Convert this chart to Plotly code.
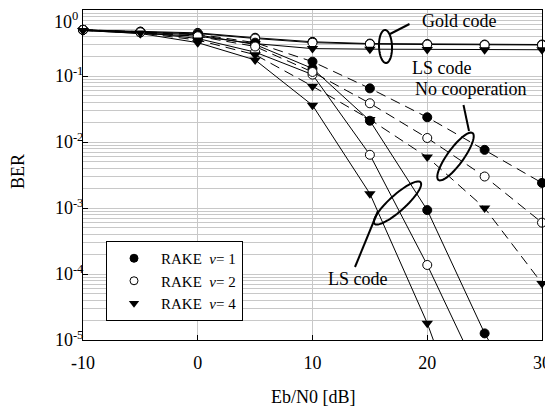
import numpy as np
import plotly.graph_objects as go

# ---------------- data ----------------
ebn0 = [-10, -5, 0, 5, 10, 15, 20, 25, 30]

gold_v1 = [0.50, 0.47, 0.45, 0.38, 0.33, 0.31, 0.305, 0.30, 0.30]
gold_v2 = [0.50, 0.46, 0.44, 0.37, 0.32, 0.305, 0.30, 0.295, 0.295]
gold_v4 = [0.49, 0.44, 0.40, 0.31, 0.26, 0.255, 0.252, 0.25, 0.25]

ls_v1 = [0.50, 0.46, 0.42, 0.30, 0.13, 0.021, 9.3e-4, 1.26e-5, 4e-7]
ls_v2 = [0.50, 0.46, 0.37, 0.23, 0.105, 6.4e-3, 1.37e-4, 2e-6]
ls_v4 = [0.49, 0.44, 0.32, 0.175, 0.036, 1.65e-3, 1.8e-5, 7e-8]

nc_v1 = [0.50, 0.47, 0.43, 0.32, 0.165, 0.065, 0.0237, 7.6e-3, 2.4e-3]
nc_v2 = [0.50, 0.46, 0.40, 0.28, 0.115, 0.0386, 0.0115, 3.0e-3, 6.0e-4]
nc_v4 = [0.49, 0.45, 0.35, 0.21, 0.07, 0.022, 5.9e-3, 1.0e-3, 7.2e-5]

legend_labels = ["RAKE  <i>ν</i>= 1", "RAKE  <i>ν</i>= 2", "RAKE  <i>ν</i>= 4"]

ytick_vals = [1, 1e-1, 1e-2, 1e-3, 1e-4, 1e-5]
ytick_text = ["10<sup>0</sup>", "10<sup>-1</sup>", "10<sup>-2</sup>",
              "10<sup>-3</sup>", "10<sup>-4</sup>", "10<sup>-5</sup>"]
xtick_vals = [-10, 0, 10, 20, 30]
xtick_text = ["-10", "0", "10", "20", "30"]
Y_MIN = 1e-5

FONT = "Liberation Serif"

# marker styles for nu = 1, 2, 4
styles = [
    dict(symbol="circle", size=9, color="black", line=dict(color="black", width=1)),
    dict(symbol="circle", size=9, color="white", line=dict(color="black", width=1)),
    dict(symbol="triangle-down", size=10, color="black", line=dict(color="black", width=0)),
]

fig = go.Figure()

groups = [
    ([gold_v1, gold_v2, gold_v4], "solid"),
    ([ls_v1, ls_v2, ls_v4], "solid"),
    ([nc_v1, nc_v2, nc_v4], "10px,6px"),
]
for series, dash in groups:
    for ys, st in zip(series, styles):
        xs = ebn0[:len(ys)]
        fig.add_trace(go.Scatter(
            x=xs, y=ys, mode="lines",
            line=dict(color="black", width=1, dash=dash), showlegend=False))
        sizes = [st["size"] if v >= Y_MIN else 0 for v in ys]
        fig.add_trace(go.Scatter(
            x=xs, y=ys, mode="markers",
            marker=dict(st, size=sizes, opacity=1), showlegend=False, cliponaxis=False))

# legend-only entries (marker only)
for lab, st in zip(legend_labels, styles):
    fig.add_trace(go.Scatter(x=[None], y=[None], mode="markers",
                             marker=dict(st, size=st["size"] - 1), name=lab))

# ---------------- geometry (window pixels; page body adds an 8px offset) ----------------
OFF = 8
W, H = 553 - OFF, 413 - OFF
L, R, T, B = 83, 542, 10, 340   # plot area in window pixels


def px2x(p):
    return (p - L) / (R - L)


def py2y(p):
    return (B - p) / (B - T)


def ellipse_path(cx, cy, a, b, ang_deg, n=60):
    th = np.deg2rad(ang_deg)
    t = np.linspace(0, 2 * np.pi, n)
    dx = a * np.cos(t) * np.cos(th) - b * np.sin(t) * np.sin(th)
    dy = -(a * np.cos(t) * np.sin(th) + b * np.sin(t) * np.cos(th))
    pts = [(px2x(cx + u), py2y(cy + v)) for u, v in zip(dx, dy)]
    return "M " + " L ".join(f"{x:.5f},{y:.5f}" for x, y in pts) + " Z"


shapes = []
for (cx, cy, a, b, ang) in [(385.5, 46.5, 16.5, 6.5, 92),
                            (455.5, 156.5, 29, 8, 54),
                            (397.5, 203, 31, 8, 42)]:
    shapes.append(dict(type="path", xref="paper", yref="paper",
                       path=ellipse_path(cx, cy, a, b, ang),
                       line=dict(color="black", width=2)))
for (x0, y0, x1, y1) in [(390, 34, 409.5, 24),
                         (463.5, 105, 469, 131),
                         (378, 211, 355, 267)]:
    shapes.append(dict(type="line", xref="paper", yref="paper",
                       x0=px2x(x0), y0=py2y(y0), x1=px2x(x1), y1=py2y(y1),
                       line=dict(color="black", width=2)))

annos = []
for (txt, xl, yc) in [("Gold code", 420, 21), ("LS code", 410, 68),
                      ("No cooperation", 413, 89), ("LS code", 326, 279)]:
    annos.append(dict(text=txt, xref="paper", yref="paper", x=px2x(xl), y=py2y(yc),
                      xanchor="left", yanchor="middle", showarrow=False,
                      font=dict(family=FONT, size=18, color="black")))
# axis titles
annos.append(dict(text="Eb/N0 [dB]", xref="paper", yref="paper", x=px2x(313), y=py2y(397),
                  xanchor="center", yanchor="middle", showarrow=False,
                  font=dict(family=FONT, size=18, color="black")))
annos.append(dict(text="BER", xref="paper", yref="paper", x=px2x(18), y=py2y(172),
                  xanchor="center", yanchor="middle", showarrow=False, textangle=-90,
                  font=dict(family=FONT, size=18, color="black")))
# top tick label (placed so it is not cut by the page edge)
annos.append(dict(text=ytick_text[0], xref="paper", yref="paper", x=px2x(79), y=py2y(8),
                  xanchor="right", yanchor="top", showarrow=False, borderpad=0,
                  font=dict(family=FONT, size=18, color="black")))
ytick_shown = [""] + ytick_text[1:]

fig.update_layout(
    width=W, height=H,
    margin=dict(l=L - OFF, r=W - (R - OFF), t=T - OFF, b=H - (B - OFF), autoexpand=False),
    paper_bgcolor="white", plot_bgcolor="white",
    font=dict(family=FONT, color="black"),
    shapes=shapes, annotations=annos,
    legend=dict(x=px2x(106), y=py2y(241), xanchor="left", yanchor="top",
                bgcolor="white", bordercolor="black", borderwidth=1,
                font=dict(family=FONT, size=15, color="black"),
                itemwidth=44, tracegroupgap=0),
    xaxis=dict(range=[-10, 30], tickvals=xtick_vals, ticktext=xtick_text, showgrid=True,
               gridcolor="#c8c8c8", gridwidth=1, zeroline=False, automargin=False,
               showline=True, linecolor="black", linewidth=1, mirror=True,
               ticks="inside", ticklen=5, tickcolor="black", ticklabelstandoff=6,
               ticklabeloverflow="allow",
               tickfont=dict(family=FONT, size=18)),
    yaxis=dict(type="log", range=[-5, 0], tickvals=ytick_vals, ticktext=ytick_shown,
               showgrid=True, gridcolor="#c8c8c8", gridwidth=1, zeroline=False,
               automargin=False, ticklabeloverflow="allow", ticklabelstandoff=-5,
               showline=True, linecolor="black", linewidth=1, mirror=True,
               ticks="inside", ticklen=5, tickcolor="black",
               tickfont=dict(family=FONT, size=18),
               minor=dict(tickvals=[m * 10.0 ** e for e in range(-5, 0) for m in range(2, 10)],
                          showgrid=True, gridcolor="#c8c8c8", gridwidth=1, ticks="")),
)

fig.write_html("out.html")
